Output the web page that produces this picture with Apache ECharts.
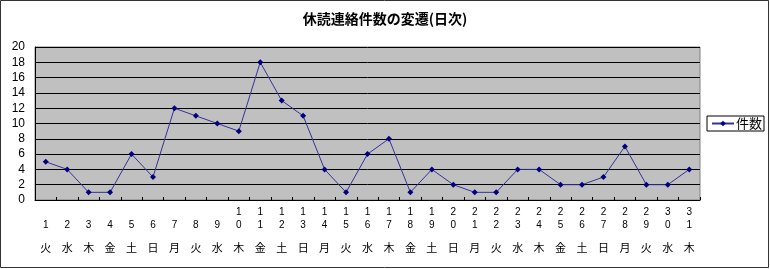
<!DOCTYPE html>
<html><head><meta charset="utf-8">
<script src="https://cdn.jsdelivr.net/npm/echarts@6/dist/echarts.min.js"></script>
<style>html,body{margin:0;padding:0;background:#fff}#c{width:770px;height:269px}</style>
</head><body><div id="c"></div>
<script>
const days = ['1','2','3','4','5','6','7','8','9','10','11','12','13','14','15','16','17','18','19','20','21','22','23','24','25','26','27','28','29','30','31'];
const weekdays = ['火','水','木','金','土','日','月','火','水','木','金','土','日','月','火','水','木','金','土','日','月','火','水','木','金','土','日','月','火','水','木'];
const counts = [5,4,1,1,6,3,12,11,10,9,18,13,11,4,1,6,8,1,4,2,1,1,4,4,2,2,3,7,2,2,4];
const yTicks = [0,2,4,6,8,10,12,14,16,18,20];
const seriesName = '件数';
const titleText = '休読連絡件数の変遷(日次)';

const cats = days.map((d,i)=>d+'|'+weekdays[i]);
const chart = echarts.init(document.getElementById('c'));
chart.setOption({
  animation:false,
  backgroundColor:'#fff',
  title:{text:titleText,left:'center',top:7,textStyle:{fontFamily:'Noto Sans CJK JP',fontSize:14,fontWeight:'bold',color:'#000'}},
  legend:{data:[seriesName],left:707,top:116,orient:'vertical',borderColor:'#000',borderWidth:1,padding:[1,2,1,4],itemWidth:22,itemHeight:7,
    textStyle:{fontFamily:'Noto Sans CJK JP',fontSize:13,color:'#000',padding:[0,0,0,-3]},backgroundColor:'#fff'},
  grid:{left:35,right:70,top:47,bottom:69,show:true,backgroundColor:'#C0C0C0',borderColor:'#808080',borderWidth:1},
  xAxis:{type:'category',data:cats,boundaryGap:true,
    axisLine:{lineStyle:{color:'#000',width:1}},
    axisTick:{show:true,inside:true,length:3,lineStyle:{color:'#000'}},
    axisLabel:{interval:0,margin:6,formatter:function(v){const p=v.split('|');const d=p[0];const t=d.length>1?d[0]:' ';const u=d[d.length-1];return '{d|'+t+'}\n{d|'+u+'}\n{w|'+p[1]+'}';},
      rich:{d:{fontFamily:'Liberation Sans, Arial',fontSize:10,lineHeight:13,color:'#000'},w:{fontFamily:'Noto Sans CJK JP',fontSize:11,lineHeight:31,color:'#000'}}}},
  yAxis:{type:'value',min:yTicks[0],max:yTicks[yTicks.length-1],interval:yTicks[1]-yTicks[0],
    axisLine:{show:true,lineStyle:{color:'#000',width:1}},axisTick:{show:false},
    axisLabel:{margin:10,fontFamily:'Liberation Sans, Arial',fontSize:12,color:'#000'},
    splitLine:{lineStyle:{color:'#000',width:1}}},
  series:[{name:seriesName,type:'line',data:counts,symbol:'diamond',symbolSize:6,
    lineStyle:{color:'#333399',width:1},itemStyle:{color:'#000080'}}],
  graphic:[{type:'rect',shape:{x:0.5,y:0.5,width:768,height:267},style:{fill:null,stroke:'#333',lineWidth:1},silent:true,z:100}]
});
</script></body></html>
